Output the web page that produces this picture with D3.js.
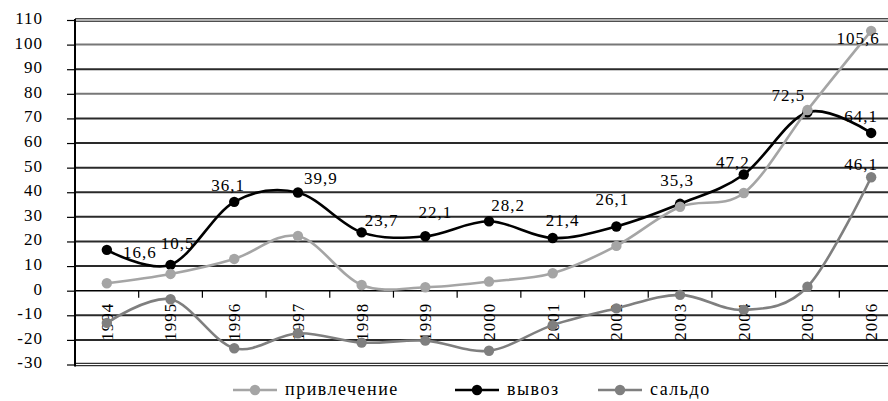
<!DOCTYPE html>
<html>
<head>
<meta charset="utf-8">
<script src="https://cdn.jsdelivr.net/npm/d3@7/dist/d3.min.js"></script>
<style>
  html, body { margin: 0; padding: 0; background: #fff; }
  svg { display: block; }
</style>
</head>
<body>
<svg id="chart" width="888" height="401"></svg>
<script>
// Years on the category axis
const years = ["1994","1995","1996","1997","1998","1999","2000","2001","2002","2003","2004","2005","2006"];

// привлечение (attraction)
const attraction = [3.0, 6.8, 12.9, 22.2, 2.3, 1.4, 3.7, 7.1, 18.2, 34.1, 39.7, 73.4, 105.6];
// вывоз (outflow)
const outflow = [16.6, 10.5, 36.1, 39.9, 23.7, 22.1, 28.2, 21.4, 26.1, 35.3, 47.2, 72.5, 64.1];
// сальдо (balance)
const balance = [-13.1, -3.5, -23.4, -17.3, -21.1, -20.3, -24.4, -14.0, -7.2, -1.7, -7.8, 1.6, 46.1];

// Value axis ticks
const yTicks = [-30, -20, -10, 0, 10, 20, 30, 40, 50, 60, 70, 80, 90, 100, 110];

const seriesNames = ["привлечение", "вывоз", "сальдо"];

// Label placement (pixel offsets from each point)
const outflowLabelOffsets = [[33,2],[7,-22],[-6,-17],[23,-14],[20,-12],[10,-24],[19,-16],[10,-18],[-4,-27],[-3,-24],[-11,-12],[-19,-17],[-10,-17]];
const attractionLastOffset = [-13, 7];
const balanceLastOffset = [-10, -13];

const FONT = "'Liberation Serif', 'Times New Roman', Tinos, 'DejaVu Serif', serif";

const svg = d3.select("#chart").attr("font-family", FONT);
const plotLeft = 75, plotRight = 903, plotTop = 20, plotBottom = 364.5;

const band = d3.scaleBand().domain(years).range([plotLeft, plotRight]).padding(0);
const x = d => band(d) + band.bandwidth() / 2;
const y = d3.scaleLinear().domain([-30, 110]).range([plotBottom, plotTop]);

const fontSize = 17;

// Horizontal gridlines
const grid = svg.append("g");
yTicks.forEach(t => {
  if (t === 0) return;
  if (t === 110 || t === -30) {
    grid.append("line").attr("x1", plotLeft).attr("x2", 888).attr("y1", y(t) - 1.2).attr("y2", y(t) - 1.2)
      .attr("stroke", "#000").attr("stroke-width", 1);
    grid.append("line").attr("x1", plotLeft).attr("x2", 888).attr("y1", y(t) + 1.2).attr("y2", y(t) + 1.2)
      .attr("stroke", "#000").attr("stroke-width", 1);
  } else {
    grid.append("line").attr("x1", plotLeft).attr("x2", 888).attr("y1", y(t)).attr("y2", y(t))
      .attr("stroke", (t === 100 || t === 80) ? "#777" : "#2a2a2a").attr("stroke-width", 2);
  }
});

// Value axis
const yAxis = d3.axisLeft(y).tickValues(yTicks).tickSize(8).tickPadding(24).tickFormat(d => d);
const yg = svg.append("g").attr("transform", `translate(${plotLeft},0)`).call(yAxis)
  .attr("font-family", FONT).attr("font-size", fontSize);
yg.select(".domain").attr("stroke", "#000").attr("stroke-width", 2).attr("d", `M0,${plotTop - 1}V${plotBottom + 2}`);
yg.selectAll(".tick line").attr("stroke", "#000").attr("stroke-width", 1.2);
yg.selectAll(".tick text")
  .attr("font-family", FONT).attr("font-size", fontSize).attr("letter-spacing", 1).attr("dy", "0.2em")
  .attr("fill", "#000");

// Category axis along zero with ticks between categories
const xg = svg.append("g");
xg.append("line").attr("x1", plotLeft).attr("x2", 888).attr("y1", y(0)).attr("y2", y(0))
  .attr("stroke", "#000").attr("stroke-width", 1.5);
years.forEach((yr, i) => {
  if (i === 0) return;
  const bx = band(yr);
  xg.append("line").attr("x1", bx).attr("x2", bx).attr("y1", y(0)).attr("y2", y(0) + 7)
    .attr("stroke", "#000").attr("stroke-width", 1.2);
});
xg.selectAll("text.year").data(years).enter().append("text")
  .attr("class", "year")
  .attr("transform", d => `translate(${x(d)},${y(0) + 12}) rotate(-90)`)
  .attr("text-anchor", "end").attr("dy", "0.35em")
  .attr("font-family", FONT).attr("font-size", fontSize).attr("letter-spacing", 1)
  .text(d => d);

// Smoothed series lines
const line = d3.line().x((d, i) => x(years[i])).y(d => y(d)).curve(d3.curveCardinal.tension(0));

const series = [
  { name: seriesNames[2], values: balance, color: "#7f7f7f" },
  { name: seriesNames[1], values: outflow, color: "#000000" },
  { name: seriesNames[0], values: attraction, color: "#a5a5a5" }
];

series.forEach(s => {
  const g = svg.append("g");
  g.append("path").datum(s.values).attr("d", line)
    .attr("fill", "none").attr("stroke", s.color).attr("stroke-width", 2.6);
  g.selectAll("circle").data(s.values).enter().append("circle")
    .attr("cx", (d, i) => x(years[i])).attr("cy", d => y(d)).attr("r", 5.2)
    .attr("fill", s.color);
});

// Value labels
const fmt = v => String(v).replace(".", ",");
const labels = svg.append("g").attr("font-family", FONT).attr("font-size", fontSize).attr("letter-spacing", 1);
outflow.forEach((v, i) => {
  labels.append("text")
    .attr("x", x(years[i]) + outflowLabelOffsets[i][0])
    .attr("y", y(v) + outflowLabelOffsets[i][1])
    .attr("text-anchor", "middle").attr("dy", "0.35em")
    .text(fmt(v));
});
const li = years.length - 1;
labels.append("text")
  .attr("x", x(years[li]) + attractionLastOffset[0]).attr("y", y(attraction[li]) + attractionLastOffset[1])
  .attr("text-anchor", "middle").attr("dy", "0.35em").text(fmt(attraction[li]));
labels.append("text")
  .attr("x", x(years[li]) + balanceLastOffset[0]).attr("y", y(balance[li]) + balanceLastOffset[1])
  .attr("text-anchor", "middle").attr("dy", "0.35em").text(fmt(balance[li]));

// Legend
const legendItems = [
  { name: seriesNames[0], color: "#a5a5a5", x: 233 },
  { name: seriesNames[1], color: "#000000", x: 455 },
  { name: seriesNames[2], color: "#7f7f7f", x: 598 }
];
const legend = svg.append("g").attr("transform", "translate(0,390)");
legendItems.forEach(it => {
  const g = legend.append("g").attr("transform", `translate(${it.x},0)`);
  g.append("line").attr("x1", 0).attr("x2", 44).attr("y1", 0).attr("y2", 0)
    .attr("stroke", it.color).attr("stroke-width", 2.6);
  g.append("circle").attr("cx", 22).attr("cy", 0).attr("r", 5.2).attr("fill", it.color);
  g.append("text").attr("x", 52).attr("y", 0).attr("dy", "0.3em")
    .attr("font-family", FONT).attr("font-size", 18).attr("letter-spacing", 1.5).text(it.name);
});
</script>
</body>
</html>
